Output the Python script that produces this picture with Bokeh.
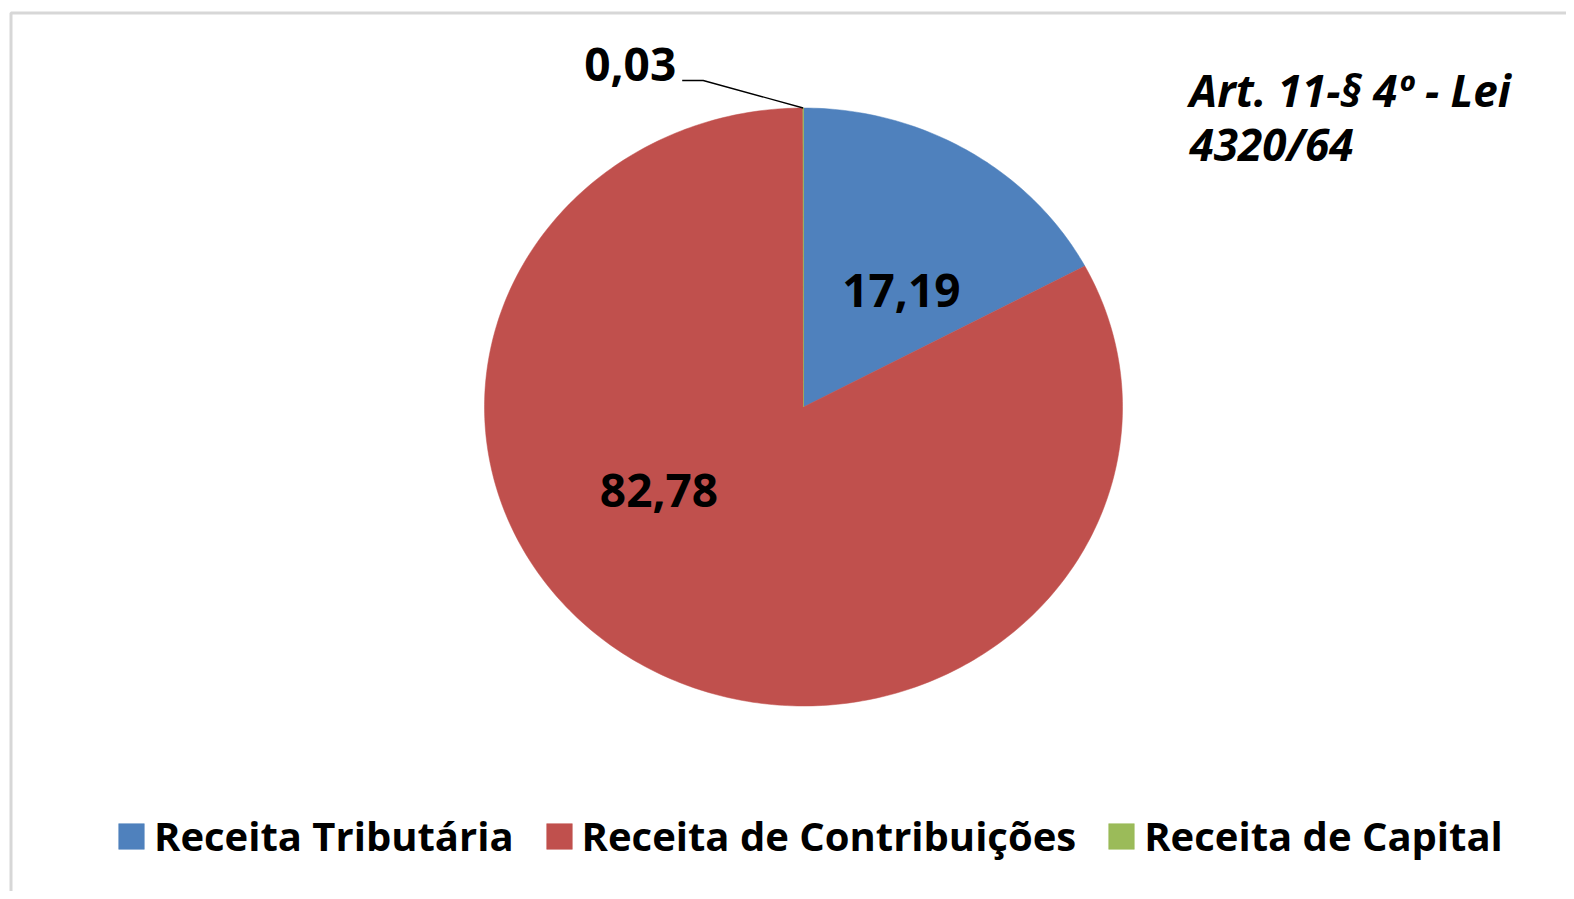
import numpy as np
from bokeh.plotting import figure
from bokeh.models import (ColumnDataSource, Range1d, Legend, LegendItem, BoxAnnotation)
from bokeh.core.properties import value
from bokeh.embed import file_html
from bokeh.resources import INLINE

# ---- data ----
categories = ["Receita Tributária", "Receita de Contribuições", "Receita de Capital"]
shares = [17.19, 82.78, 0.03]
share_labels = ["17,19", "82,78", "0,03"]
colors = ["#4F81BD", "#C0504D", "#9BBB59"]
note_text = "Art. 11-§ 4º - Lei\n4320/64"

# ---- layout ----
W, H = 1566, 891
CX, CY = 803, 484.5          # pie centre (data px)
RX, RY = 319, 299            # pie radii (stretched)
FONT = "Open Sans"

p = figure(width=W, height=H, output_backend="svg", toolbar_location=None,
           x_range=Range1d(0, W), y_range=Range1d(0, H),
           min_border=0, min_border_left=0, min_border_right=0,
           min_border_top=0, min_border_bottom=0)
p.axis.visible = False
p.grid.visible = False
p.outline_line_color = None
p.background_fill_color = "white"
p.border_fill_color = "white"

# ---- wedges (stretched pie, clockwise from 12 o'clock) ----
total = sum(shares)
fr = np.array(shares) / total
ends = np.cumsum(fr)
starts = ends - fr
xs, ys = [], []
for s, e in zip(starts, ends):
    t = np.linspace(np.pi / 2 - 2 * np.pi * s, np.pi / 2 - 2 * np.pi * e,
                    max(3, int(400 * (e - s))))
    xs.append(np.concatenate([[CX], CX + RX * np.cos(t)]).tolist())
    ys.append(np.concatenate([[CY], CY + RY * np.sin(t)]).tolist())
src = ColumnDataSource(dict(xs=xs, ys=ys, color=colors, name=categories))
r = p.patches("xs", "ys", source=src, fill_color="color", line_color="color",
              line_width=0.5)

# ---- data labels (offsets as fractions of the radii) ----
lab_off = [(0.307, 0.388), (-0.453, -0.279)]
lx = [CX + RX * ox for ox, oy in lab_off]
ly = [CY + RY * oy for ox, oy in lab_off]
p.text(x=lx, y=ly, text=share_labels[:2], text_font=value(FONT),
       text_font_style="bold", text_font_size="46px", text_color="black",
       text_align="center", text_baseline="middle")

# small slice label with leader line
mid_small = np.pi / 2 - 2 * np.pi * (starts[2] + ends[2]) / 2
tipx = CX + RX * np.cos(mid_small)
tipy = CY + RY * np.sin(mid_small)
p.line(x=[tipx, tipx - 100, tipx - 121], y=[tipy, tipy + 27.5, tipy + 27.5],
       line_color="black", line_width=1.3)
p.text(x=[tipx - 127], y=[tipy + 43.5], text=[share_labels[2]], text_font=value(FONT),
       text_font_style="bold", text_font_size="46px", text_color="black",
       text_align="right", text_baseline="middle")

# ---- note ----
p.text(x=[1189], y=[832], text=[note_text], text_font=value(FONT),
       text_font_style="bold italic", text_font_size="44px", text_color="black",
       text_align="left", text_baseline="top", text_line_height=0.9)

# ---- frame border (only top/left visible) ----
p.add_layout(BoxAnnotation(left=10.5, top=878.5, right=W + 200, bottom=-200,
                           fill_alpha=0, line_color="#7a7a7a", line_width=3))

# ---- legend ----
items = [LegendItem(label=c, renderers=[r], index=i) for i, c in enumerate(categories)]
leg = Legend(items=items, orientation="horizontal", location=(115, 28),
             glyph_width=32, glyph_height=32, label_standoff=7, spacing=29,
             padding=0, margin=0, border_line_color=None, background_fill_alpha=0,
             label_text_font=FONT, label_text_font_style="bold",
             label_text_font_size="40px", label_text_color="black")
p.add_layout(leg)

open("out.html", "w").write(file_html(p, INLINE))
